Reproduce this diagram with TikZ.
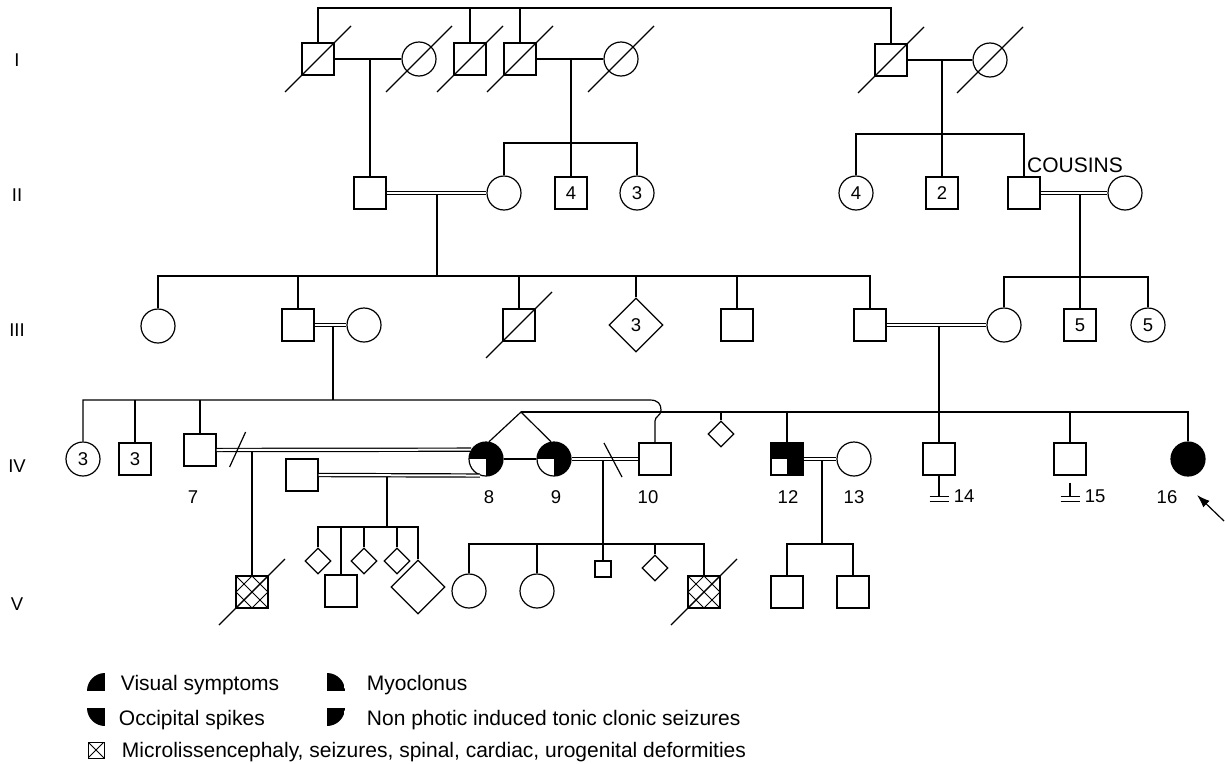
\documentclass[tikz,border=0pt]{standalone}
\usepackage{fontspec}
\setmainfont{Liberation Sans}
\usepackage{tikz}
\usetikzlibrary{shapes.geometric, arrows.meta, calc}
\newcommand{\pedsmall}{\fontsize{18.5}{21}\selectfont}
\newcommand{\pedlarge}{\fontsize{21}{25}\selectfont}

\begin{document}
\begin{tikzpicture}[x=1pt, y=-1pt, line width=1.2pt,
        male/.style={rectangle, draw, minimum size=32pt, inner sep=0pt, font=\pedsmall},
        female/.style={circle, draw, minimum size=34pt, inner sep=0pt, font=\pedsmall},
        unk/.style={diamond, draw, minimum size=26pt, inner sep=0pt, font=\pedsmall},
        bigunk/.style={unk, minimum size=54pt},
        smallmale/.style={male, minimum size=16pt},
        affq/.style={path picture={
            \fill (path picture bounding box.west) rectangle (path picture bounding box.north east);
            \fill (path picture bounding box.center) rectangle (path picture bounding box.south east);}},
        xhatch/.style={path picture={
            \draw[line width=0.9pt] (path picture bounding box.north west) -- (path picture bounding box.south east)
                (path picture bounding box.north east) -- (path picture bounding box.south west)
                (path picture bounding box.north) -- (path picture bounding box.east) -- (path picture bounding box.south) -- (path picture bounding box.west) -- cycle;}},
        dbl/.style={double, double distance=2pt},
        lab/.style={font=\pedsmall, anchor=base},
        quad/.style={circle, minimum size=36pt, inner sep=0pt, path picture={\fill (path picture bounding box.center) rectangle (path picture bounding box.#1);}},
        legtext/.style={font=\pedlarge, anchor=base west}
    ]
    \useasboundingbox (0,0) rectangle (1225,763);

    % sibship levels
    \coordinate (sI) at (600,8);
    \coordinate (s2a) at (0,143);
    \coordinate (s2b) at (0,134);
    \coordinate (s3a) at (0,276);
    \coordinate (s3b) at (0,277);
    \coordinate (s4a) at (0,400);
    \coordinate (tw) at (521,412);
    \coordinate (s5a) at (0,527);
    \coordinate (s5b) at (0,544);
    \coordinate (s5c) at (0,544);

    % Generations
    \foreach \g/\y in {I/60, II/195, III/330, IV/466, V/604}
        \node[font=\pedsmall] (g\g) at (17,\y) {\g};

    % Generation I
    \node[male] (a1) at (318,59) {};
    \node[female] (a2) at (419,59) {};
    \node[male] (a3) at (470,59) {};
    \node[male] (a4) at (520,59) {};
    \node[female] (a5) at (621,59) {};
    \node[male] (a6) at (891,60) {};
    \node[female] (a7) at (990,60) {};
    \draw (a1.north) |- (sI) -| (a6.north);
    \draw (a3.north) -- (a3.north |- sI);
    \draw (a4.north) -- (a4.north |- sI);
    \draw (a1) -- (a2);
    \draw (a4) -- (a5);
    \draw (a6) -- (a7);
    \coordinate (m1) at (370,59);
    \coordinate (m2) at (571,59);
    \coordinate (m3) at (942,60);

    % Generation II
    \node[male] (b1) at (370,193) {};
    \node[female] (b2) at (504,193) {};
    \node[male] (b3) at (571,193) {4};
    \node[female] (b4) at (637,193) {3};
    \node[female] (b5) at (856,193) {4};
    \node[male] (b6) at (942,193) {2};
    \node[male] (b7) at (1024,193) {};
    \node[female] (b8) at (1125,193) {};
    \node[font=\pedlarge, anchor=base] (cous) at (1075,172) {COUSINS};
    \draw (m1) -- (b1);
    \draw (m2) -- (b3);
    \draw (b2.north) |- (s2a -| b4.north) -- (b4.north);
    \draw (m3) -- (b6);
    \draw (b5.north) |- (s2b -| b7.north) -- (b7.north);
    \coordinate (m4) at (437,193);
    \coordinate (m5) at (1080,193);

    % Generation III
    \node[female] (c1) at (158,326) {};
    \node[male] (c2) at (298,325) {};
    \node[female] (c3) at (364,325) {};
    \node[male] (c4) at (519,325) {};
    \node[bigunk] (c5) at (636,325) {3};
    \node[male] (c6) at (737,325) {};
    \node[male] (c7) at (870,325) {};
    \node[female] (c8) at (1004,325) {};
    \node[male] (c9) at (1080,325) {5};
    \node[female] (c10) at (1148,325) {5};
    \draw (m4) -- (m4 |- s3a);
    \draw (c1.north) |- (s3a -| c7.north) -- (c7.north);
    \foreach \k in {c2,c4,c5,c6}
        \draw (\k.north) -- (\k.north |- s3a);
    \draw (m5) -- (c9);
    \draw (c8.north) |- (s3b -| c10.north) -- (c10.north);
    \draw[dbl] (b1) -- (b2);
    \draw[dbl] (b7) -- (b8);
    \coordinate (m6) at (333,325);
    \coordinate (m7) at (939,325);

    % Generation IV
    \node[female] (d1) at (83,459) {3};
    \node[male] (d2) at (135,459) {3};
    \node[male] (d3) at (200,450) {};
    \node[female, affq] (d4) at (486,459) {};
    \node[female, affq] (d5) at (554,459) {};
    \node[male] (d6) at (655,459) {};
    \node[unk] (d7) at (721,434) {};
    \node[male, affq] (d8) at (787,459) {};
    \node[female] (d9) at (854,459) {};
    \node[male] (d10) at (939,459) {};
    \node[male] (d11) at (1070,459) {};
    \node[female, fill=black] (d12) at (1188,459) {};
    \node[male] (d13) at (302,475) {};
    \draw (m6) -- (m6 |- s4a);
    \draw (d1.north) |- (650,400) .. controls (658,400) and (661,404) .. (661,410)
        .. controls (661,416) and (655,416) .. (655,421) -- (d6.north);
    \foreach \k in {d2,d3}
        \draw (\k.north) -- (\k.north |- s4a);
    \draw[dbl] (c2) -- (c3);
    \draw (m7) -- (m7 |- tw);
    \draw (tw) -| (d12.north);
    \foreach \k in {d7,d8,d10,d11}
        \draw (\k.north) -- (\k.north |- tw);
    \draw[dbl] (c7) -- (c8);
    \draw (d4.80) -- (tw) -- (d5.100);
    \draw (d4) -- (d5);
    \coordinate (m8) at (387,475);
    \coordinate (m9) at (603,459);
    \coordinate (m10) at (822,459);

    % Labels
    \node[lab] (l7) at (193,503) {7};
    \node[lab] (l8) at (489,503) {8};
    \node[lab] (l9) at (556,503) {9};
    \node[lab] (l10) at (648,503) {10};
    \node[lab] (l12) at (788,503) {12};
    \node[lab] (l13) at (854,503) {13};
    \node[lab] (l16) at (1167,503) {16};

    % Infertile
    \draw (d10.south) -- ++(0,21) coordinate (i14);
    \draw ([shift={(-9.5,0)}]i14) -- ++(19,0) ([shift={(-9.5,5)}]i14) -- ++(19,0);
    \node[lab, anchor=base west] (l14) at ([shift={(11,6)}]i14) {14};
    \draw ([shift={(0,7)}]d11.south) -- ++(0,14) coordinate (i15);
    \draw ([shift={(-9.5,0)}]i15) -- ++(19,0) ([shift={(-9.5,5)}]i15) -- ++(19,0);
    \node[lab, anchor=base west] (l15) at ([shift={(11,6)}]i15) {15};

    % Proband
    \coordinate (ptail) at (1224,521);
    \coordinate (ptip) at (1197,495);
    \draw[-{Latex[length=13pt, width=9pt]}] (ptail) -- (ptip);

    % Generation V
    \node[male, xhatch] (e1) at (252,592) {};
    \node[unk] (e2) at (318,561) {};
    \node[male] (e3) at (341,591) {};
    \node[unk] (e4) at (364,561) {};
    \node[unk] (e5) at (397,561) {};
    \node[bigunk] (e6) at (418,587) {};
    \node[female] (e7) at (469,591) {};
    \node[female] (e8) at (537,591) {};
    \node[smallmale] (e9) at (603,569) {};
    \node[unk] (e10) at (655,568) {};
    \node[male, xhatch] (e11) at (704,592) {};
    \node[male] (e12) at (787,592) {};
    \node[male] (e13) at (853,592) {};
    \draw (e1.north |- d3.east) -- (e1.north);
    \draw (m8) -- (m8 |- s5a);
    \draw (m9) -- (e9.north);
    \draw (m10) -- (m10 |- s5c);
    \draw (e2.north) |- (s5a -| e6.north) -- (e6.north);
    \foreach \k in {e3,e4,e5}
        \draw (\k.north) -- (\k.north |- s5a);
    \draw (e7.north) |- (s5b -| e11.north) -- (e11.north);
    \foreach \k in {e8,e10}
        \draw (\k.north) -- (\k.north |- s5b);
    \draw (e12.north) |- (s5c -| e13.north) -- (e13.north);

    % Couples of generation IV
    \draw[dbl] (d3.east) -- (d4.148);
    \draw[dbl] (d13.east) -- (d4.250);
    \draw[dbl] (d5) -- (d6);
    \draw[dbl] (d8) -- (d9);
    \draw ([shift={(13,17)}]d3.east) -- ++(16,-35);
    \draw ([shift={(1,-16)}]m9) -- ++(18,34);

    % Deceased
    \foreach \n in {a1,a2,a3,a4,a5,a6,a7,c4,e1,e11}
        \draw ([shift={(-33,33)}]\n.center) -- ([shift={(33,-33)}]\n.center);

    % Legend
    \node[quad=north west] (q1) at (105,691) {};
    \node[legtext] (t1) at (117,690) {Visual symptoms};
    \node[quad=north east] (q2) at (327,691) {};
    \node[legtext] (t2) at (363,690) {Myoclonus};
    \node[quad=south west] (q3) at (105,708) {};
    \node[legtext] (t3) at (115,725) {Occipital spikes};
    \node[quad=south east] (q4) at (327,708) {};
    \node[legtext] (t4) at (363,725) {Non photic induced tonic clonic seizures};
    \node[rectangle, draw, minimum size=16pt, inner sep=0pt, line width=0.9pt,
        path picture={\draw[line width=0.9pt] (path picture bounding box.north west) -- (path picture bounding box.south east)
            (path picture bounding box.north east) -- (path picture bounding box.south west);}] (q5) at (96,750) {};
    \node[legtext] (t5) at (118,757) {Microlissencephaly, seizures, spinal, cardiac, urogenital deformities};
\end{tikzpicture}
\end{document}
